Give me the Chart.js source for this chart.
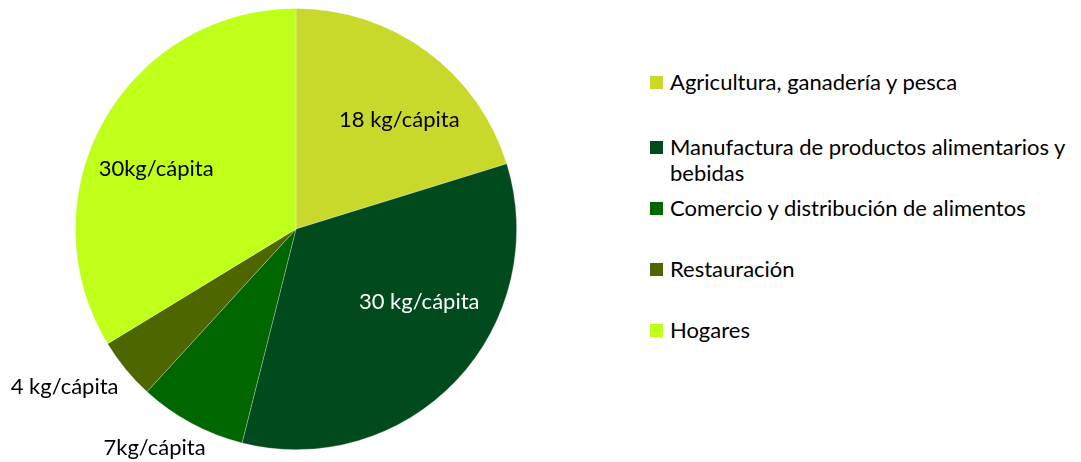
<!DOCTYPE html>
<html lang="es">
<head>
<meta charset="utf-8">
<title>Desperdicio alimentario por eslabón</title>
<script src="https://cdn.jsdelivr.net/npm/chart.js@4/dist/chart.umd.min.js"></script>
<style>
  html, body { margin: 0; padding: 0; background: #fff; }
  body { width: 1081px; height: 462px; position: relative; overflow: hidden; font-family: Lato, "Noto Sans", sans-serif; }
  #wrap { position: absolute; left: 0; top: 0; width: 592px; height: 462px; }
  #legend { position: absolute; left: 650px; top: 0; width: 431px; margin: 0; padding: 0; list-style: none; color: #000; font-size: 22px; line-height: 26px; }
  #legend li { position: absolute; left: 0; padding-left: 20px; width: 411px; }
  #legend li span { position: absolute; left: 0; top: 7px; width: 13px; height: 13px; }
</style>
</head>
<body>
<div id="wrap"><canvas id="pie"></canvas></div>
<ul id="legend"></ul>
<script>
// data
const categories = [
  'Agricultura, ganadería y pesca',
  'Manufactura de productos alimentarios y bebidas',
  'Comercio y distribución de alimentos',
  'Restauración',
  'Hogares'
];
const kgPerCapita = [18, 30, 7, 4, 30];
const sliceLabels = ['18 kg/cápita', '30 kg/cápita', '7kg/cápita', '4 kg/cápita', '30kg/cápita'];
const colors = ['#c9d92c', '#004a1d', '#006600', '#4d6600', '#bfff19'];
const labelColors = ['#000', '#fff', '#000', '#000', '#000'];

// label placement: angle shift (deg) from slice middle, radius as fraction of outer radius
const labelPos = [[7.1, 0.68], [-12.7, 0.65], [4.6, 1.18], [5.1, 1.27], [-6.1, 0.69]];
// legend rows (top of each row, px)
const legendTops = [69, 134, 195, 256, 317];

const sliceText = {
  id: 'sliceText',
  afterDatasetsDraw(chart) {
    const ctx = chart.ctx;
    const arcs = chart.getDatasetMeta(0).data;
    ctx.save();
    ctx.font = '22px Lato, "Noto Sans", sans-serif';
    ctx.textAlign = 'center';
    ctx.textBaseline = 'middle';
    arcs.forEach((arc, i) => {
      const p = arc.getProps(['x', 'y', 'startAngle', 'endAngle', 'outerRadius'], true);
      const mid = (p.startAngle + p.endAngle) / 2 + labelPos[i][0] * Math.PI / 180;
      const r = p.outerRadius * labelPos[i][1];
      ctx.fillStyle = labelColors[i];
      ctx.fillText(sliceLabels[i], p.x + r * Math.cos(mid), p.y + r * Math.sin(mid));
    });
    ctx.restore();
  }
};

new Chart(document.getElementById('pie'), {
  type: 'pie',
  data: {
    labels: categories,
    datasets: [{
      data: kgPerCapita,
      backgroundColor: colors,
      borderColor: 'rgba(255,255,255,0.35)',
      borderWidth: 0.75
    }]
  },
  options: {
    responsive: true,
    maintainAspectRatio: false,
    animation: false,
    layout: { padding: { top: 8, bottom: 12, left: 0, right: 0 } },
    plugins: {
      legend: { display: false },
      tooltip: { enabled: false }
    }
  },
  plugins: [sliceText]
});

// legend
const legendEl = document.getElementById('legend');
categories.forEach((name, i) => {
  const li = document.createElement('li');
  li.style.top = legendTops[i] + 'px';
  li.innerHTML = `<span style="background:${colors[i]}"></span>${name}`;
  legendEl.appendChild(li);
});
</script>
</body>
</html>
